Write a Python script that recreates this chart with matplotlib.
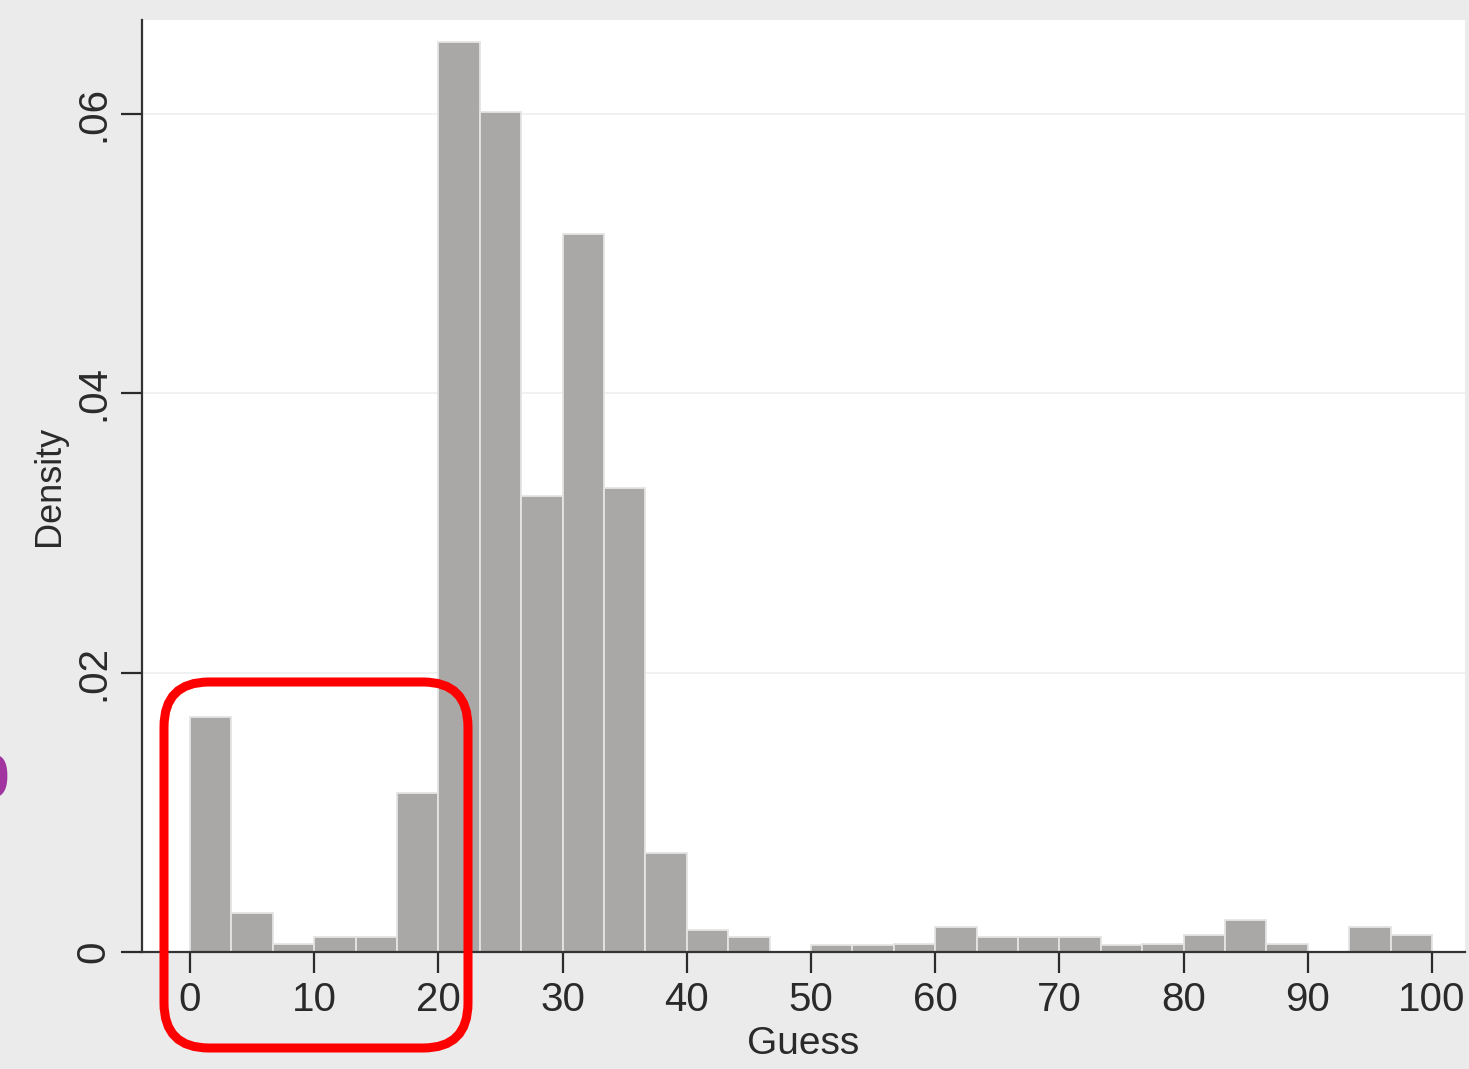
import numpy as np
import matplotlib
matplotlib.use("Agg")
import matplotlib.pyplot as plt
from matplotlib.patches import FancyBboxPatch

plt.rcParams['font.family'] = ['Liberation Sans', 'DejaVu Sans']

# density histogram of guesses: 30 bins of width 10/3 on [0, 100]
bin_edges = np.linspace(0, 100, 31)
density = [0.0168, 0.0028, 0.0006, 0.0011, 0.0011, 0.0114,
           0.0651, 0.0601, 0.0326, 0.0514, 0.0332, 0.0071,
           0.0016, 0.0011, 0.0, 0.0005, 0.0005, 0.0006,
           0.0018, 0.0011, 0.0011, 0.0011, 0.0005, 0.0006,
           0.0012, 0.0023, 0.0006, 0.0, 0.0018, 0.0012]

x_ticks = list(range(0, 101, 10))
y_ticks = [0, 0.02, 0.04, 0.06]
y_labels = ["0", ".02", ".04", ".06"]

W, H = 1469, 1069
fig = plt.figure(figsize=(W / 100, H / 100), dpi=100, facecolor='#ebebeb')
ax = fig.add_axes([142 / W, 1 - 952 / H, (1465 - 142) / W, (952 - 20) / H])
ax.set_facecolor('white')

width = bin_edges[1] - bin_edges[0]
ax.bar(bin_edges[:-1], density, width=width, align='edge',
       color='#a9a8a6', edgecolor='#e4e4e4', linewidth=1.3, zorder=2)

ax.set_xlim(-3.86, 102.66)
ax.set_ylim(0, 0.0667)

# faint grid lines
for yv in y_ticks[1:]:
    ax.axhline(yv, color='#efefef', lw=1.2, zorder=1)

ax.set_xticks(x_ticks)
ax.set_yticks(y_ticks)
ax.set_yticklabels(y_labels, rotation=90, va='center')
ax.tick_params(axis='both', labelsize=29, colors='#2a2a2a', width=1.6,
               length=15, pad=6)

for side in ('top', 'right'):
    ax.spines[side].set_visible(False)
for side in ('left', 'bottom'):
    ax.spines[side].set_color('#333333')
    ax.spines[side].set_linewidth(1.6)

ax.set_xlabel("Guess", fontsize=28, color='#2a2a2a', labelpad=5)
ax.set_ylabel("Density", fontsize=26, color='#2a2a2a', labelpad=6)

# red rounded box around the low guesses (coordinates in inches)
r = 0.45
x0, x1 = 164 / 100, 468 / 100
y0, y1 = (H - 1048) / 100, (H - 682) / 100
box = FancyBboxPatch((x0 + r, y0 + r), (x1 - x0) - 2 * r, (y1 - y0) - 2 * r,
                     boxstyle=f"round,pad={r}", transform=fig.dpi_scale_trans,
                     fill=False, edgecolor='#ff0000', linewidth=6.5, zorder=10)
fig.patches.append(box)

# clipped purple glyph at the left edge
fig.text(10 / W, 1 - 782 / H, "0", color='#a2349f', fontsize=44,
         fontweight='bold', ha='right', va='center')

fig.savefig("out.png", dpi=100, facecolor=fig.get_facecolor())
